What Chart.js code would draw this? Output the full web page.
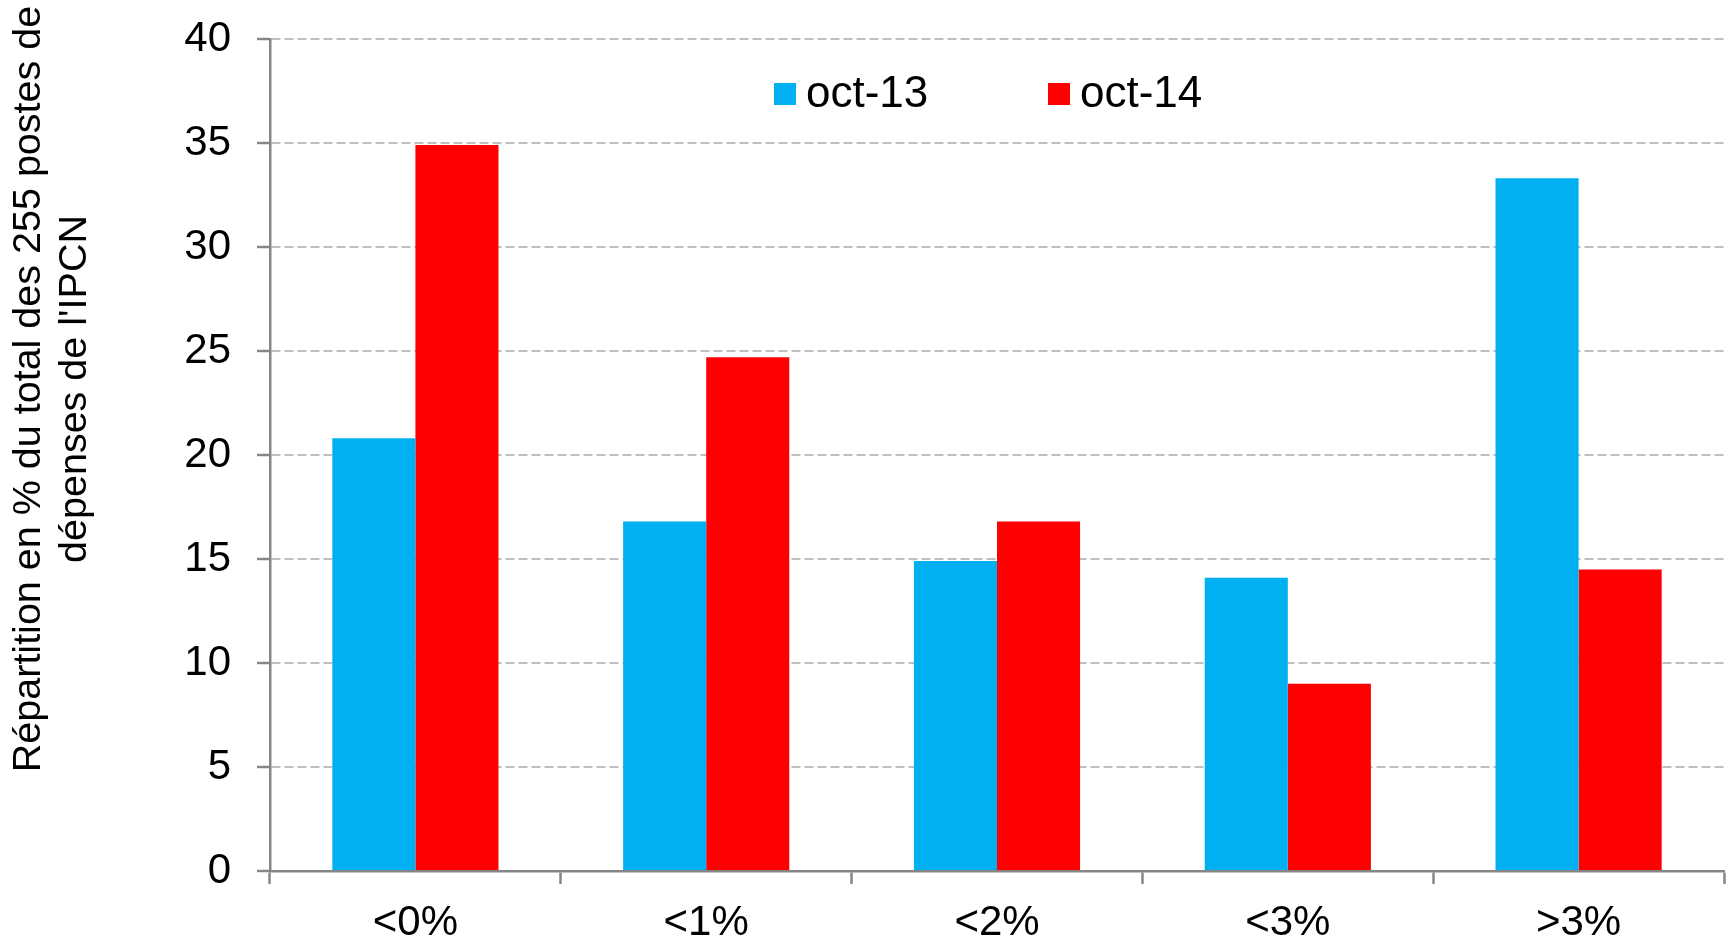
<!DOCTYPE html>
<html>
<head>
<meta charset="utf-8">
<script src="https://cdn.jsdelivr.net/npm/chart.js@4/dist/chart.umd.min.js"></script>
<style>
  html, body { margin: 0; padding: 0; background: #fff; }
  #wrap { width: 1736px; height: 943px; position: relative; }
</style>
</head>
<body>
<div id="wrap"><canvas id="chart"></canvas></div>
<script>
'use strict';

// ============================================================
// DATA
// ============================================================
const categories  = ['<0%', '<1%', '<2%', '<3%', '>3%'];
const seriesNames = ['oct-13', 'oct-14'];
const oct13Values = [20.8, 16.8, 14.9, 14.1, 33.3];
const oct14Values = [34.9, 24.7, 16.8, 9.0, 14.5];
const yTickValues = [0, 5, 10, 15, 20, 25, 30, 35, 40];
const yTitleLines = ['Répartition en % du total des 255 postes de', "dépenses de l'IPCN"];

const FONT   = '"Liberation Sans", Arial, sans-serif';
const AXIS   = '#868686';
const GRID   = '#BFBFBF';
const BLUE   = '#00B0F0';
const RED    = '#FF0000';

// ============================================================
// PLUGINS – y title (two rotated lines) and in-plot legend
// ============================================================
const yTitlePlugin = {
  id: 'yTitle',
  afterDraw(chart) {
    const ctx = chart.ctx;
    ctx.save();
    ctx.font = `39.5px ${FONT}`;
    ctx.fillStyle = '#000';
    ctx.textAlign = 'center';
    ctx.textBaseline = 'middle';
    const xs = [29, 75];
    yTitleLines.forEach((line, i) => {
      ctx.save();
      ctx.translate(xs[i], 389);
      ctx.rotate(-Math.PI / 2);
      ctx.fillText(line, 0, 0);
      ctx.restore();
    });
    ctx.restore();
  }
};

const legendPlugin = {
  id: 'plotLegend',
  afterDraw(chart) {
    const ctx = chart.ctx;
    const startX = [774, 1048];
    const midY = 94;
    ctx.save();
    ctx.font = `44px ${FONT}`;
    ctx.textBaseline = 'middle';
    ctx.textAlign = 'left';
    chart.data.datasets.forEach((ds, i) => {
      ctx.fillStyle = ds.backgroundColor;
      ctx.fillRect(startX[i], midY - 11, 22, 22);
      ctx.fillStyle = '#000';
      ctx.fillText(ds.label, startX[i] + 32, midY + 1);
    });
    ctx.restore();
  }
};

// ============================================================
// CHART
// ============================================================
new Chart(document.getElementById('chart'), {
  type: 'bar',
  data: {
    labels: categories,
    datasets: [
      { label: seriesNames[0], data: oct13Values, backgroundColor: BLUE, borderWidth: 0 },
      { label: seriesNames[1], data: oct14Values, backgroundColor: RED,  borderWidth: 0 }
    ]
  },
  options: {
    responsive: true, maintainAspectRatio: false,
    animation: false,
    layout: { padding: { top: 39, right: 12, left: 0, bottom: 0 } },
    datasets: { bar: { categoryPercentage: 0.5714, barPercentage: 1 } },
    plugins: { legend: { display: false }, tooltip: { enabled: false } },
    scales: {
      x: {
        grid: { display: true, drawOnChartArea: false, drawTicks: true, offset: true,
                tickLength: 13, tickColor: AXIS, tickWidth: 2.5 },
        border: { color: AXIS, width: 2.5 },
        ticks: { color: '#000', font: { family: FONT, size: 42 }, padding: 14, maxRotation: 0 },
        afterFit(scale) { scale.height = 72; }
      },
      y: {
        min: 0, max: 40,
        afterBuildTicks(scale) { scale.ticks = yTickValues.map(v => ({ value: v })); },
        grid: { color: GRID, lineWidth: 2, tickLength: 13, tickColor: AXIS, tickWidth: 2.5 },
        border: { color: AXIS, width: 2.5, dash: [9, 4] },
        ticks: { color: '#000', font: { family: FONT, size: 42 }, padding: 26 },
        afterFit(scale) {
          scale.width = 270;
          scale.paddingTop = 0;
          scale.paddingBottom = 0;
        }
      }
    }
  },
  plugins: [yTitlePlugin, legendPlugin]
});
</script>
</body>
</html>
